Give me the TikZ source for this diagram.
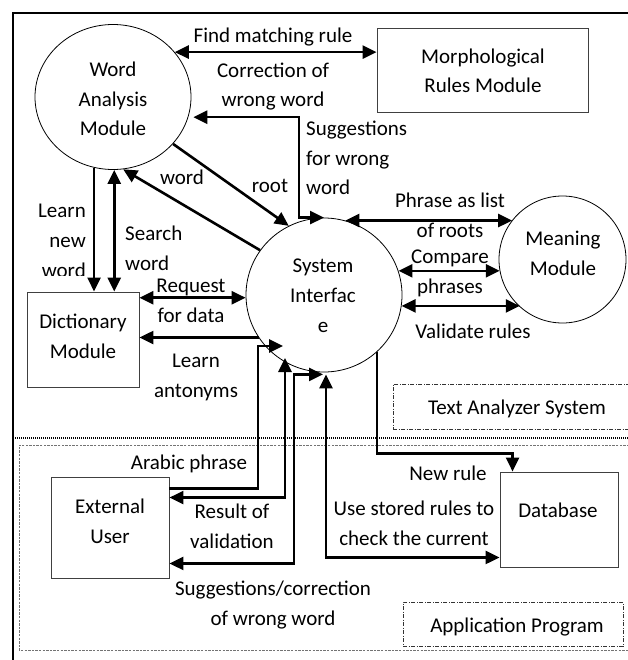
\documentclass[tikz,border=0pt]{standalone}
\usepackage{fontspec}
\setmainfont{Carlito}
\usetikzlibrary{arrows.meta,shapes.geometric,calc}
\begin{document}
\begin{tikzpicture}[x=1pt,y=-1pt,
  font=\fontsize{21}{29.8}\selectfont,
  >={Triangle[length=14pt,width=13pt]},
  flow/.style={line width=2.6pt,->},
  both/.style={line width=2.6pt,<->},
  proc/.style={draw, ellipse, line width=0.8pt, inner sep=0pt},
  ent/.style={draw=black!75, line width=0.9pt, inner sep=0pt},
  sysbox/.style={draw=black!80, line width=0.7pt, inner sep=0pt,
     dash pattern=on 4pt off 1.5pt on 1pt off 1.5pt},
  lbl/.style={inner sep=0pt, align=center, anchor=base},
  lbll/.style={inner sep=0pt, align=left, anchor=base west},
  lblr/.style={inner sep=0pt, align=right, anchor=base east},
  frame/.style={line width=1.8pt},
  dotline/.style={line width=1.1pt, dash pattern=on 1pt off 1pt},
  appreg/.style={line width=1pt, draw=black!55, dash pattern=on 2.4pt off 1.2pt}
]
\useasboundingbox (0,0) rectangle (627,660);

% frames and system boundaries
\draw[frame] (13,670) -- (13,13) -- (640,13);
\draw[dotline] (13,438) -- (640,438);
\draw[appreg] (640,445) -- (19,445) -- (19,650) -- (640,650);
\node[sysbox, minimum width=236pt, minimum height=45pt] (tas) at (511,406.5) {};
\node[lbl] (tast) at (517,414) {Text Analyzer System};
\node[sysbox, minimum width=220pt, minimum height=44pt] (app) at (513,624) {};
\node[lbl] (appt) at (517,632) {Application Program};

% processes and entities (label anchor = baseline of last line)
\node[proc, minimum width=156pt, minimum height=145pt] (wam) at (113,97) {};
\node[lbl] (wamt) at (113,136) {Word\\Analysis\\Module};
\node[ent, minimum width=211pt, minimum height=84pt] (morph) at (482.5,70) {};
\node[lbl] (morpht) at (483,93) {Morphological\\Rules Module};
\node[proc, minimum width=156pt, minimum height=154pt] (si) at (324,295) {};
\node[lbl] (sit) at (323,332) {System\\Interfac\\e};
\node[proc, minimum width=127pt, minimum height=127pt] (mm) at (562.5,259.5) {};
\node[lbl] (mmt) at (563,275) {Meaning\\Module};
\node[ent, minimum width=112pt, minimum height=95pt] (dict) at (83,339.5) {};
\node[lbl] (dictt) at (83,358) {Dictionary\\Module};
\node[ent, minimum width=118pt, minimum height=101pt] (user) at (110,527.5) {};
\node[lbl] (usert) at (110,543) {External\\User};
\node[ent, minimum width=118pt, minimum height=95pt] (db) at (559,519.5) {};
\node[lbl] (dbt) at (558,517) {Database};

% flows
\draw[both] (wam.36) -- (wam.36 -| morph.west);
\node[lbl] (l1) at (273,43) {Find matching rule};

\draw[both] ($(wam.-15)+(5,0)$) -| ($(si.north)+(-25,0)$) -- (si.north);
\node[lbl] (l2) at (273,107) {Correction of\\wrong word};
\node[lbll] (l3) at (306,195) {Suggestions\\for wrong\\word};

\draw[flow] (wam.-38) -- (si.117);
\node[lbl] (l4) at (270,193) {root};
\draw[flow] (si.145) -- (wam.-82);
\node[lbl] (l5) at (182,185) {word};

\draw[flow] (wam.-105) -- (wam.-105 |- dict.north);
\begin{scope}
  \clip (20,195) rectangle (92,275);
  \node[lblr] (l6) at (86,277) {Learn\\new\\word};
\end{scope}
\draw[both] (wam.-89) -- (wam.-89 |- dict.north);
\node[lbll] (l7) at (125,270) {Search\\word};

\draw[both] (si.182) -- (si.182 -| dict.east);
\node[lbl] (l8) at (191,322) {Request\\for data};
\draw[flow] (si.-147) -- (si.-147 -| dict.east);
\node[lbl] (l9) at (196,397) {Learn\\antonyms};

\draw[both] (si.74) -- (si.74 -| mm.142);
\node[lbl] (l10) at (450,237) {Phrase as list\\of roots};
\draw[both] (si.18) -- (si.18 -| mm.191);
\node[lbl] (l11) at (450,293) {Compare\\phrases};
\draw[both] (si.-8) -- (si.-8 -| mm.228);
\node[lbl] (l12) at (473,338) {Validate rules};

\draw[flow] ($(user.north east)+(0,12)$) -| ($(si.center)+(-66,51)$) -- ($(si.center)+(-41,51)$);
\node[lbl] (l13) at (189,469) {Arabic phrase};
\draw[both] ($(si.center)+(-39,63)$) |- ($(user.north east)+(0,21)$);
\node[lbl] (l14) at (232,548) {Result of\\validation};
\draw[both] ($(si.south)+(-1,2)$) -- ($(si.south)+(-30,2)$) |- ($(user.south east)+(0,-15)$);
\node[lbl] (l15) at (273,625) {Suggestions/correction\\of wrong word};
\draw[both] ($(si.south)+(2,2)$) |- ($(db.south west)+(0,-10)$);
\node[lbl] (l16) at (414,545) {Use stored rules to\\check the current};
\draw[flow] (si.-47) |- ($(db.north west)+(13,-18)$) -- ($(db.north west)+(13,0)$);
\node[lbl] (l17) at (448,480) {New rule};
\end{tikzpicture}
\end{document}
